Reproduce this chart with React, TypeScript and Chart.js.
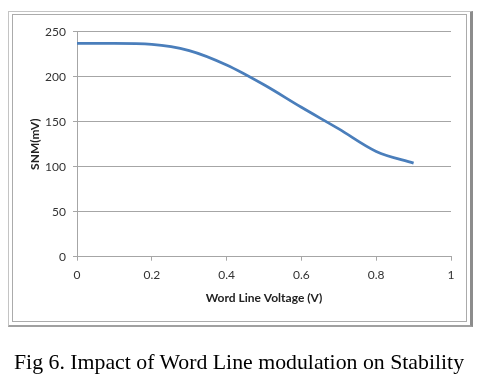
import React, { useEffect, useRef } from 'react';
import { Chart, registerables } from 'chart.js';

Chart.register(...registerables);

const voltages = [0, 0.1, 0.2, 0.3, 0.4, 0.5, 0.6, 0.7, 0.8, 0.9];
const snmValues = [237, 237, 236, 229, 213, 191, 166, 142, 117, 104];
const xTickValues = [0, 0.2, 0.4, 0.6, 0.8, 1];
const yTickValues = [0, 50, 100, 150, 200, 250];
const xTitle = 'Word Line Voltage (V)';
const yTitle = 'SNM(mV)';
const caption = 'Fig 6. Impact of Word Line modulation on Stability';

const tickFont = { family: 'Lato, "Open Sans", sans-serif', size: 12 };
const titleFont = { family: 'Lato, "Open Sans", sans-serif', size: 12, weight: 'bold' as const };

export default function App() {
  const canvasRef = useRef<HTMLCanvasElement | null>(null);

  useEffect(() => {
    if (!canvasRef.current) return;
    const chart = new Chart(canvasRef.current, {
      type: 'line',
      data: {
        datasets: [
          {
            data: voltages.map((v, i) => ({ x: v, y: snmValues[i] })),
            borderColor: '#4A7EBB',
            borderWidth: 2.8,
            pointRadius: 0,
            fill: false,
            cubicInterpolationMode: 'monotone',
          },
        ],
      },
      options: {
        animation: false,
        responsive: false,
        layout: { padding: { left: 27.8, top: 31.7, right: 27, bottom: 85.8 } },
        plugins: { legend: { display: false }, tooltip: { enabled: false } },
        scales: {
          x: {
            type: 'linear',
            min: 0,
            max: 1,
            afterBuildTicks: (s: any) => {
              s.ticks = xTickValues.map((v) => ({ value: v }));
            },
            afterFit: (s: any) => {
              s.height = 48.5;
            },
            grid: {
              drawOnChartArea: false,
              drawTicks: true,
              tickLength: 4,
              color: '#a6a6a6',
            },
            border: { display: true, color: '#a6a6a6', width: 1 },
            ticks: {
              font: tickFont,
              color: '#333333',
              padding: 7,
              maxRotation: 0,
              callback: (v: any) => String(v),
            },
            title: { display: true, text: xTitle, font: titleFont, color: '#222222', padding: 0 },
          },
          y: {
            type: 'linear',
            min: 0,
            max: 250,
            afterBuildTicks: (s: any) => {
              s.ticks = yTickValues.map((v) => ({ value: v }));
            },
            afterFit: (s: any) => {
              s.width = 49.2;
            },
            grid: {
              drawOnChartArea: true,
              drawTicks: true,
              tickLength: 4,
              color: '#a6a6a6',
            },
            border: { display: true, color: '#a6a6a6', width: 1 },
            ticks: { font: tickFont, color: '#333333', padding: 7, callback: (v: any) => String(v) },
            title: { display: true, text: yTitle, font: titleFont, color: '#222222', padding: 0 },
          },
        },
      },
    });
    return () => chart.destroy();
  }, []);

  return (
    <div style={{ position: 'absolute', left: 0, top: 0, width: 478, height: 391, background: '#ffffff' }}>
      <div
        style={{
          position: 'absolute',
          left: 8,
          top: 11,
          width: 465,
          height: 316,
          boxSizing: 'border-box',
          borderTop: '1px solid #c4c4c4',
          borderLeft: '1px solid #c4c4c4',
          borderRight: '3px solid #8c8c8c',
          borderBottom: '2px solid #a0a0a0',
        }}
      />
      <div
        style={{
          position: 'absolute',
          left: 12,
          top: 14,
          width: 455,
          height: 308,
          boxSizing: 'border-box',
          border: '1px solid #ababab',
        }}
      />
      <canvas
        ref={canvasRef}
        width={478}
        height={391}
        style={{ position: 'absolute', left: 0, top: 0, width: 478, height: 391 }}
      />
      <div
        style={{
          position: 'absolute',
          left: 0,
          top: 349,
          width: 478,
          textAlign: 'center',
          fontFamily: '"Liberation Serif", "Times New Roman", serif',
          fontSize: 21.8,
          lineHeight: '26px',
          color: '#000000',
          whiteSpace: 'nowrap',
        }}
      >
        {caption}
      </div>
    </div>
  );
}
